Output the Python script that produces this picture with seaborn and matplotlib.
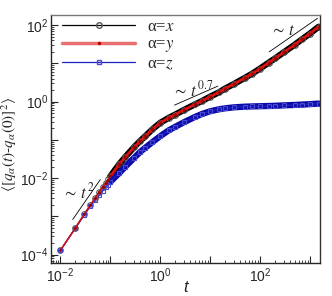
import matplotlib
matplotlib.use("Agg")
import matplotlib.pyplot as plt
import matplotlib.ticker as mticker
from matplotlib.lines import Line2D
import numpy as np
import pandas as pd
import seaborn as sns

# time points and mean square displacement
t_vals = [0.01, 0.02, 0.03, 0.04, 0.05, 0.06, 0.07, 0.08, 0.09, 0.1,
          0.15, 0.2, 0.3, 0.4, 0.5, 0.7, 1, 1.5, 2, 3, 5, 7, 10, 15, 20,
          30, 50, 70, 100, 150, 200, 300, 500, 700, 1000, 1500]
msd_x = [1.3e-4, 5.1e-4, 1.15e-3, 2.0e-3, 3.1e-3, 4.4e-3, 5.9e-3, 7.5e-3, 9.3e-3, 1.12e-2,
         2.3e-2, 3.6e-2, 6.5e-2, 9.5e-2, 0.125, 0.19, 0.28, 0.38, 0.46, 0.61, 0.85, 1.05, 1.35, 1.75, 2.2,
         2.9, 4.2, 5.4, 7.3, 10.5, 13.5, 19.5, 31, 43, 60, 91]
msd_y = [1.3e-4, 5.0e-4, 1.14e-3, 2.0e-3, 3.1e-3, 4.4e-3, 5.9e-3, 7.4e-3, 9.2e-3, 1.11e-2,
         2.3e-2, 3.6e-2, 6.4e-2, 9.4e-2, 0.124, 0.19, 0.28, 0.38, 0.46, 0.61, 0.85, 1.05, 1.35, 1.75, 2.2,
         2.9, 4.2, 5.4, 7.3, 10.5, 13.5, 19.5, 31, 43, 60, 91]
msd_z = [1.3e-4, 4.9e-4, 1.08e-3, 1.85e-3, 2.7e-3, 3.6e-3, 4.6e-3, 5.7e-3, 6.8e-3, 8.0e-3,
         1.35e-2, 2.0e-2, 3.4e-2, 4.9e-2, 6.2e-2, 8.8e-2, 0.125, 0.18, 0.22, 0.29, 0.40, 0.48, 0.56, 0.63, 0.67,
         0.71, 0.74, 0.75, 0.76, 0.77, 0.78, 0.80, 0.82, 0.84, 0.86, 0.89]

# guide power laws (endpoints in data units) and their labels
guide_t2 = ([0.0176, 0.063], [8.3e-4, 9.2e-3])
guide_t07 = ([1.93, 14.3], [0.81, 2.55])
guide_t1 = ([153, 1426], [20, 151])
guide_labels = [r"$\sim\, t^{\,2}$", r"$\sim\, t^{\,0.7}$", r"$\sim\, t$"]
guide_label_pos = [(0.0105, 4.6e-3), (1.74, 2.1), (158, 74)]

legend_labels = ["α=$x$", "α=$y$", "α=$z$"]

sns.set_style("ticks")
plt.rcParams["font.family"] = ["Liberation Sans", "DejaVu Sans"]
plt.rcParams["mathtext.fontset"] = "stix"

df = pd.DataFrame({"t": t_vals, "x": msd_x, "y": msd_y, "z": msd_z})
dense = df[df["t"] >= 0.1]

fig = plt.figure(figsize=(3.32, 2.96), dpi=100)
ax = fig.add_axes([0.154, 0.111, 0.810, 0.838])

# thick bands where the original markers overlap into a solid line
sns.lineplot(data=dense, x="t", y="x", color="black", lw=4.5, ax=ax)
sns.lineplot(data=df, x="t", y="x", color="black", lw=0.9, marker="o", ms=4,
             mfc="none", mec="#555555", mew=0.8, ax=ax)
sns.lineplot(data=dense, x="t", y="z", color="#0a0aa8", lw=4.5, ax=ax)
sns.lineplot(data=df, x="t", y="z", color="#2020c0", lw=0.9, marker="s", ms=3.5,
             mfc="none", mec="#4848d0", mew=0.8, ax=ax)
sns.lineplot(data=dense, x="t", y="y", color="#e01010", lw=2.0, ax=ax)
sns.lineplot(data=df, x="t", y="y", color="#e01010", lw=1.0, marker="o", ms=1.5,
             mfc="#a00000", mec="#a00000", ax=ax)

for (gx, gy) in [guide_t2, guide_t07, guide_t1]:
    ax.plot(gx, gy, color="black", lw=0.6)
for lab, (lx, ly) in zip(guide_labels, guide_label_pos):
    ax.text(lx, ly, lab, fontsize=12, ha="left", va="center")

ax.set_xscale("log")
ax.set_yscale("log")
ax.set_xlim(0.0065, 1600)
ax.set_ylim(6e-5, 183)

def even_decades(v, pos):
    e = int(round(np.log10(v)))
    return r"$\mathdefault{10^{%d}}$" % e if e % 2 == 0 else ""

for axis in (ax.xaxis, ax.yaxis):
    axis.set_major_locator(mticker.LogLocator(base=10, numticks=20))
    axis.set_minor_locator(mticker.LogLocator(base=10, subs=np.arange(2, 10), numticks=20))
    axis.set_major_formatter(mticker.FuncFormatter(even_decades))
    axis.set_minor_formatter(mticker.NullFormatter())

ax.tick_params(which="major", direction="in", length=5, width=0.8, labelsize=10, pad=2)
ax.tick_params(which="minor", direction="in", length=2.5, width=0.6)
for s in ax.spines.values():
    s.set_linewidth(1.0)
ax.spines["top"].set_color("#777777")
ax.spines["right"].set_color("#333333")

ax.set_xlabel("t", fontsize=12, fontstyle="italic", labelpad=-3)
ax.set_ylabel(r"$\langle[q_\alpha(t)$-$q_\alpha(0)]^2\rangle$", fontsize=11)
ax.yaxis.set_label_coords(-0.118, 0.48)

handles = [
    Line2D([], [], color="black", lw=0.9, marker="o", ms=4, mfc="none", mec="#555555"),
    Line2D([], [], color="#e87070", lw=2.5, marker="o", ms=1.5, mfc="#c00000", mec="#c00000"),
    Line2D([], [], color="#2020c0", lw=0.9, marker="s", ms=3.5, mfc="none", mec="#4848d0"),
]
leg = ax.legend(handles, legend_labels, loc="upper left", frameon=False,
                bbox_to_anchor=(0.041, 0.985), borderaxespad=0.0, borderpad=0.0,
                handlelength=4.4, handletextpad=0.7, labelspacing=0.1,
                prop={"family": "Liberation Serif", "size": 12})

fig.savefig("out.png", dpi=100)
